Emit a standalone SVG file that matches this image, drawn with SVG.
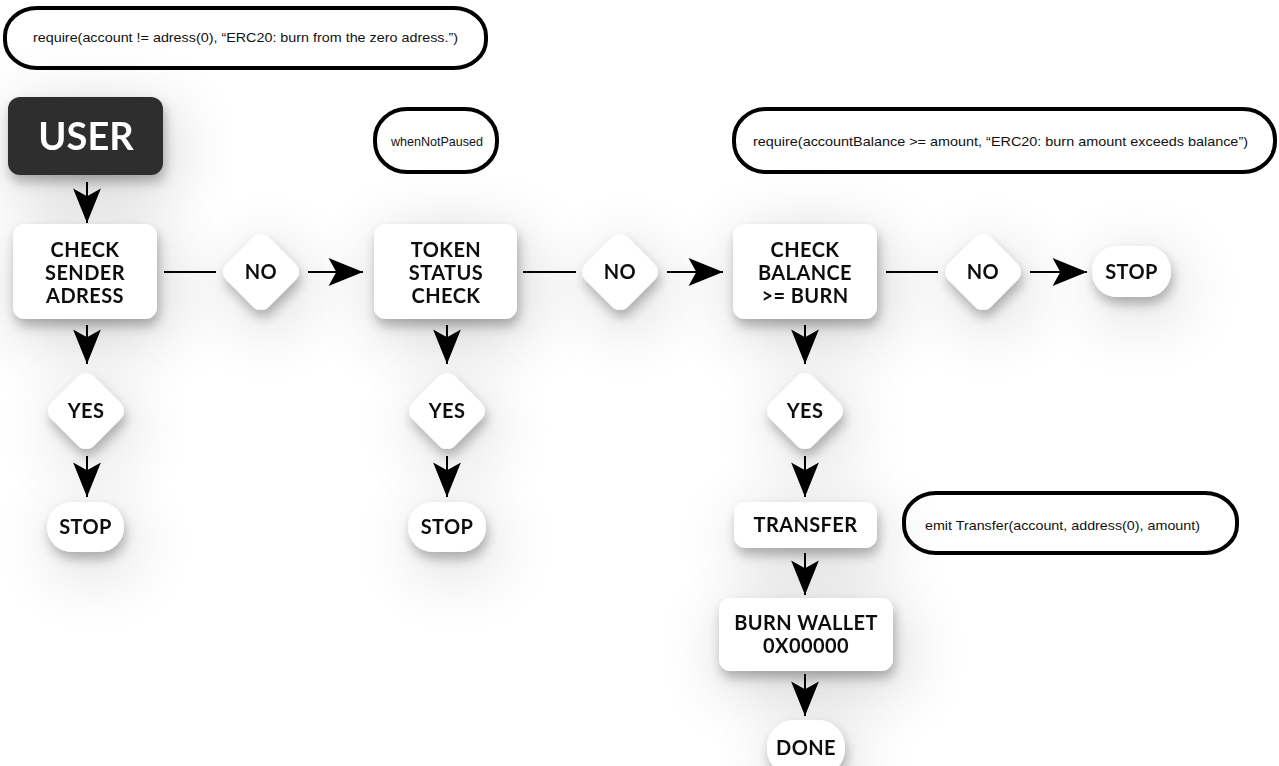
<svg xmlns="http://www.w3.org/2000/svg" width="1279" height="766" viewBox="0 0 1279 766">
  <style>
    .box { fill: #ffffff; }
    .dark { fill: #2f2f2f; }
    .note { fill: #ffffff; stroke: #000000; stroke-width: 4; }
    .lbl { font-family: Lato, "Liberation Sans", sans-serif; font-weight: 700; font-size: 20px; letter-spacing: 0.4px; fill: #111111; text-anchor: middle; }
    .user { font-family: Lato, "Liberation Sans", sans-serif; font-weight: 700; font-size: 38px; fill: #ffffff; text-anchor: middle; }
    .code { font-family: "Liberation Sans", Arial, sans-serif; font-weight: 400; font-size: 13.5px; fill: #111111; text-anchor: middle; }
    .wire { stroke: #000000; stroke-width: 2; fill: none; }
  </style>
  <defs>
    <filter id="soft" filterUnits="userSpaceOnUse" x="-200" y="-200" width="1700" height="1200">
      <feGaussianBlur in="SourceAlpha" stdDeviation="34" result="haze"/>
      <feOffset in="haze" dx="8" dy="16" result="hazeOff"/>
      <feComponentTransfer in="hazeOff" result="hazeFade"><feFuncA type="linear" slope="0.2"/></feComponentTransfer>
      <feGaussianBlur in="SourceAlpha" stdDeviation="6" result="near"/>
      <feOffset in="near" dx="2" dy="7" result="nearOff"/>
      <feComponentTransfer in="nearOff" result="nearFade"><feFuncA type="linear" slope="0.28"/></feComponentTransfer>
      <feMerge>
        <feMergeNode in="hazeFade"/>
        <feMergeNode in="nearFade"/>
        <feMergeNode in="SourceGraphic"/>
      </feMerge>
    </filter>
    <marker id="head" markerUnits="userSpaceOnUse" markerWidth="40" markerHeight="40" viewBox="-32 -16 36 32" refX="0" refY="0" orient="auto">
      <path d="M0,0 L-31,-12.5 L-24,0 L-31,12.5 Z" fill="#000000"/>
    </marker>
  </defs>

  <rect width="1279" height="766" fill="#ffffff"/>

  <!-- code notes -->
  <g id="note-zero-address">
    <rect class="note" x="5" y="8" width="481" height="60" rx="32" ry="28"/>
    <text class="code" x="245.5" y="42" textLength="425" lengthAdjust="spacingAndGlyphs">require(account != adress(0), “ERC20: burn from the zero adress.”)</text>
  </g>
  <g id="note-paused">
    <rect class="note" x="375" y="109" width="122" height="63" rx="32" ry="30"/>
    <text class="code" x="437" y="145.5" textLength="92" lengthAdjust="spacingAndGlyphs">whenNotPaused</text>
  </g>
  <g id="note-balance">
    <rect class="note" x="734" y="109" width="541" height="63" rx="32" ry="30"/>
    <text class="code" x="1000.5" y="145.5" textLength="495" lengthAdjust="spacingAndGlyphs">require(accountBalance &gt;= amount, “ERC20: burn amount exceeds balance”)</text>
  </g>
  <g id="note-transfer">
    <rect class="note" x="904" y="493" width="333" height="60" rx="32" ry="28"/>
    <text class="code" x="1062.5" y="530" textLength="275" lengthAdjust="spacingAndGlyphs">emit Transfer(account, address(0), amount)</text>
  </g>

  <!-- connectors -->
  <g id="connectors">
    <line class="wire" x1="87" y1="182" x2="87" y2="223" marker-end="url(#head)"/>
    <line class="wire" x1="87" y1="325" x2="87" y2="364" marker-end="url(#head)"/>
    <line class="wire" x1="87" y1="456" x2="87" y2="497" marker-end="url(#head)"/>
    <line class="wire" x1="164" y1="272" x2="216" y2="272"/>
    <line class="wire" x1="308" y1="272" x2="363" y2="272" marker-end="url(#head)"/>

    <line class="wire" x1="447" y1="325" x2="447" y2="364" marker-end="url(#head)"/>
    <line class="wire" x1="447" y1="456" x2="447" y2="497" marker-end="url(#head)"/>
    <line class="wire" x1="523" y1="272" x2="576" y2="272"/>
    <line class="wire" x1="667" y1="272" x2="723" y2="272" marker-end="url(#head)"/>

    <line class="wire" x1="886" y1="272" x2="938" y2="272"/>
    <line class="wire" x1="1030" y1="272" x2="1087" y2="272" marker-end="url(#head)"/>
    <line class="wire" x1="805" y1="325" x2="805" y2="364" marker-end="url(#head)"/>
    <line class="wire" x1="805" y1="456" x2="805" y2="497" marker-end="url(#head)"/>
    <line class="wire" x1="805" y1="553" x2="805" y2="595" marker-end="url(#head)"/>
    <line class="wire" x1="805" y1="674" x2="805" y2="716" marker-end="url(#head)"/>
  </g>

  <!-- nodes -->
  <g id="user" filter="url(#soft)">
    <rect class="dark" x="8" y="97" width="155" height="78" rx="12"/>
    <text class="user" x="86" y="150">USER</text>
  </g>

  <g id="check-sender" filter="url(#soft)">
    <rect class="box" x="13" y="224" width="144" height="95" rx="12"/>
    <text class="lbl" x="85" y="257">CHECK</text>
    <text class="lbl" x="85" y="280">SENDER</text>
    <text class="lbl" x="85" y="303">ADRESS</text>
  </g>
  <g id="no-1" filter="url(#soft)">
    <rect class="box" x="-30" y="-30" width="60" height="60" rx="11" transform="translate(261 272) rotate(45)"/>
    <text class="lbl" x="261" y="279">NO</text>
  </g>
  <g id="yes-1" filter="url(#soft)">
    <rect class="box" x="-30" y="-30" width="60" height="60" rx="11" transform="translate(86 411) rotate(45)"/>
    <text class="lbl" x="86" y="418">YES</text>
  </g>
  <g id="stop-1" filter="url(#soft)">
    <rect class="box" x="47" y="502" width="77" height="50" rx="25"/>
    <text class="lbl" x="85.5" y="534">STOP</text>
  </g>

  <g id="token-status" filter="url(#soft)">
    <rect class="box" x="374" y="224" width="143" height="95" rx="12"/>
    <text class="lbl" x="446" y="257">TOKEN</text>
    <text class="lbl" x="446" y="280">STATUS</text>
    <text class="lbl" x="446" y="303">CHECK</text>
  </g>
  <g id="no-2" filter="url(#soft)">
    <rect class="box" x="-30" y="-30" width="60" height="60" rx="11" transform="translate(620 272) rotate(45)"/>
    <text class="lbl" x="620" y="279">NO</text>
  </g>
  <g id="yes-2" filter="url(#soft)">
    <rect class="box" x="-30" y="-30" width="60" height="60" rx="11" transform="translate(447 411) rotate(45)"/>
    <text class="lbl" x="447" y="418">YES</text>
  </g>
  <g id="stop-2" filter="url(#soft)">
    <rect class="box" x="408" y="502" width="78" height="50" rx="25"/>
    <text class="lbl" x="447" y="534">STOP</text>
  </g>

  <g id="check-balance" filter="url(#soft)">
    <rect class="box" x="733" y="224" width="144" height="95" rx="12"/>
    <text class="lbl" x="805" y="257">CHECK</text>
    <text class="lbl" x="805" y="280">BALANCE</text>
    <text class="lbl" x="805" y="303">&gt;= BURN</text>
  </g>
  <g id="no-3" filter="url(#soft)">
    <rect class="box" x="-30" y="-30" width="60" height="60" rx="11" transform="translate(983 272) rotate(45)"/>
    <text class="lbl" x="983" y="279">NO</text>
  </g>
  <g id="stop-3" filter="url(#soft)">
    <rect class="box" x="1092" y="246" width="79" height="51" rx="25"/>
    <text class="lbl" x="1131.5" y="278.5">STOP</text>
  </g>
  <g id="yes-3" filter="url(#soft)">
    <rect class="box" x="-30" y="-30" width="60" height="60" rx="11" transform="translate(805 411) rotate(45)"/>
    <text class="lbl" x="805" y="418">YES</text>
  </g>
  <g id="transfer" filter="url(#soft)">
    <rect class="box" x="734" y="502" width="143" height="46" rx="12"/>
    <text class="lbl" x="805.5" y="532">TRANSFER</text>
  </g>
  <g id="burn-wallet" filter="url(#soft)">
    <rect class="box" x="719" y="598" width="174" height="73" rx="12"/>
    <text class="lbl" x="806" y="630">BURN WALLET</text>
    <text class="lbl" x="806" y="653">0X00000</text>
  </g>
  <g id="done" filter="url(#soft)">
    <rect class="box" x="767" y="720" width="78" height="56" rx="27"/>
    <text class="lbl" x="806" y="754.5">DONE</text>
  </g>
</svg>
